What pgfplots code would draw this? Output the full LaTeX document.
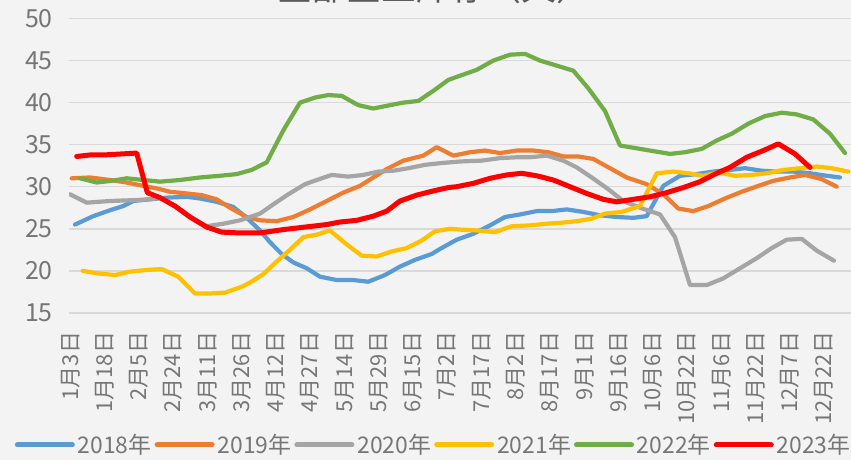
\documentclass[border=0pt]{standalone}
\usepackage{fontspec}
\setmainfont{Noto Sans CJK SC}
\usepackage{pgfplots}
\pgfplotsset{compat=1.18}
\definecolor{c18}{HTML}{5B9BD5}
\definecolor{c19}{HTML}{ED7D31}
\definecolor{c20}{HTML}{A5A5A5}
\definecolor{c21}{HTML}{FFC000}
\definecolor{c22}{HTML}{70AD47}
\definecolor{c23}{HTML}{FF0000}
\definecolor{bgc}{HTML}{F3F3F3}
\definecolor{gridc}{HTML}{D9D9D9}
\definecolor{labc}{HTML}{767676}
\definecolor{titlec}{HTML}{595959}
\begin{document}
\begin{tikzpicture}[x=1bp,y=1bp]
\fill[bgc] (0,0) rectangle (851,460);
\node[overlay, anchor=base, font=\fontsize{35}{35}\selectfont, text=titlec] at (434,459) {全部企业库存（天）};
\begin{axis}[
  at={(69,175)}, anchor=south west, scale only axis, width=782bp, height=294.3bp,
  xmin=69, xmax=851, ymin=15, ymax=50,
  ytick={15,20,...,50},
  xtick={70.5,104.75,139,173.25,207.5,241.75,276,310.25,344.5,378.75,413,447.25,481.5,515.75,550,584.25,618.5,652.75,687,721.25,755.5,789.75,824},
  xticklabels={1月3日,1月18日,2月5日,2月24日,3月11日,3月26日,4月12日,4月27日,5月14日,5月29日,6月15日,7月2日,7月17日,8月2日,8月17日,9月1日,9月16日,10月6日,10月22日,11月6日,11月22日,12月7日,12月22日},
  ymajorgrids, grid style={draw=gridc, line width=1.5bp},
  axis line style={draw=none}, major tick length=0pt,
  tick label style={text=labc},
  yticklabel style={font=\fontsize{25}{25}\selectfont, anchor=east, inner sep=0pt, xshift=-16bp},
  xticklabel style={font=\fontsize{22}{22}\selectfont, yshift=-19bp, rotate=90, anchor=east, inner sep=0pt},
  /pgf/number format/assume math mode=true,
  legend style={at={(0.467,-0.449)}, anchor=center, draw=none, fill=none, legend columns=-1, font=\fontsize{23}{23}\selectfont, text=labc, nodes={inner sep=3bp}, /tikz/every even column/.append style={column sep=0bp}},
  legend image code/.code={\draw[#1, line width=5bp, line cap=round] (0bp,0bp) -- (55bp,0bp);},
  no markers,
  every axis plot/.append style={line join=round, line cap=round, line width=4.2bp},
]
\addplot[c18] coordinates {(75,25.5)(93.3,26.5)(110,27.2)(123.3,27.7)(133.3,28.3)(150,28.5)(166.7,28.7)(186.7,28.8)(200,28.6)(216.7,28.2)(233.3,27.6)(246.7,26.3)(260,24.8)(270,23.4)(281.7,22.0)(293.3,21.0)(306.7,20.3)(320,19.3)(336.7,18.9)(353.3,18.9)(368.3,18.7)(385,19.5)(400,20.5)(415,21.3)(431.7,22.0)(440,22.6)(456.7,23.7)(473.3,24.4)(490,25.4)(505,26.4)(520,26.7)(536.7,27.1)(551.7,27.1)(566.7,27.3)(583.3,27.0)(600,26.6)(616.7,26.4)(633.3,26.3)(646.7,26.5)(663.3,30.1)(680,31.3)(696.7,31.5)(713.3,31.8)(730,32.0)(745,32.2)(761.7,31.9)(776.7,31.8)(793.3,31.8)(810,31.6)(826.7,31.3)(840,31.1)};
\addplot[c19] coordinates {(71.7,31.0)(90,31.1)(110,30.8)(126.7,30.5)(143.3,30.1)(156.7,29.8)(170,29.4)(186.7,29.2)(201.7,29.0)(216.7,28.5)(230,27.5)(246.7,26.4)(260,26.0)(276.7,25.9)(293.3,26.4)(310,27.3)(326.7,28.3)(343.3,29.3)(360,30.1)(373.3,31.1)(386.7,32.1)(403.3,33.1)(423.3,33.7)(436.7,34.7)(453.3,33.7)(470,34.1)(485,34.3)(500,34.0)(516.7,34.3)(533.3,34.3)(548.3,34.1)(563.3,33.6)(578.3,33.6)(593.3,33.3)(610,32.2)(626.7,31.1)(646.7,30.3)(663.3,29.1)(678.3,27.4)(693.3,27.1)(708.3,27.7)(725,28.6)(741.7,29.4)(758.3,30.1)(773.3,30.7)(790,31.1)(805,31.4)(821.7,30.9)(836.7,30.0)};
\addplot[c20] coordinates {(70,29.1)(86.7,28.1)(110,28.3)(133.3,28.4)(150,28.5)(160,28.7)(175,27.7)(190,26.4)(206.7,25.3)(223.3,25.6)(240,26.0)(260,26.8)(273.3,27.9)(288.3,29.1)(305,30.3)(316.7,30.8)(331.7,31.4)(348.3,31.2)(363.3,31.4)(378.3,31.8)(393.3,31.9)(408.3,32.2)(425,32.6)(440,32.8)(460,33.0)(481.7,33.1)(500,33.4)(516.7,33.5)(530,33.5)(546.7,33.7)(563.3,33.1)(576.7,32.3)(591.7,31.1)(608.3,29.7)(623.3,28.3)(640,27.5)(660,26.7)(675,24.0)(690,18.3)(706.7,18.3)(723.3,19.1)(740,20.3)(756.7,21.5)(771.7,22.7)(786.7,23.7)(801.7,23.8)(816.7,22.4)(834,21.2)};
\addplot[c21] coordinates {(82.7,20.0)(96.7,19.7)(115,19.5)(130,19.9)(146.7,20.1)(161.7,20.2)(178.3,19.3)(195,17.3)(210,17.3)(225,17.4)(241.7,18.1)(250,18.6)(263.3,19.6)(276.7,21.1)(290,22.5)(303.3,24.0)(316.7,24.3)(330,24.8)(345,23.3)(361.7,21.8)(376.7,21.7)(391.7,22.3)(406.7,22.7)(421.7,23.6)(435,24.7)(450,25.0)(460,24.9)(476.7,24.8)(495,24.6)(511.7,25.3)(530,25.4)(546.7,25.6)(560,25.7)(576.7,25.9)(591.7,26.2)(605,26.8)(621.7,27.0)(640,27.7)(656.7,31.6)(673.3,31.8)(688.3,31.6)(703.3,31.3)(718.3,31.7)(735,31.3)(751.7,31.4)(766.7,31.6)(783.3,32.0)(800,32.2)(816.7,32.4)(831.7,32.2)(848.3,31.8)};
\addplot[c22] coordinates {(80,31.0)(96.7,30.5)(111.7,30.7)(126.7,31.0)(143.3,30.8)(160,30.6)(180,30.8)(200,31.1)(220,31.3)(236.7,31.5)(251.7,32.0)(266.7,32.9)(283.3,36.7)(300,40.0)(315,40.6)(328.3,40.9)(341.7,40.8)(358.3,39.7)(373.3,39.3)(390,39.7)(403.3,40.0)(418.3,40.2)(433.3,41.4)(448.3,42.7)(460,43.2)(476.7,43.9)(493.3,45.0)(510,45.7)(525,45.8)(540,45.0)(556.7,44.4)(573.3,43.8)(588.3,41.7)(605,39.0)(620,34.9)(635,34.6)(650,34.3)(670,33.9)(685,34.1)(701.7,34.5)(716.7,35.5)(731.7,36.3)(748.3,37.5)(765,38.4)(781.7,38.8)(796.7,38.6)(813.3,38.0)(830,36.3)(845,34.0)};
\addplot[c23, line width=5bp] coordinates {(76.7,33.6)(92,33.8)(107,33.8)(122,33.9)(136.7,34.0)(147.3,29.3)(160,28.7)(175,27.7)(190,26.4)(206.7,25.2)(221.7,24.6)(240,24.5)(260,24.5)(283.3,24.9)(305,25.2)(326.7,25.5)(340,25.8)(356.7,26.0)(373.3,26.5)(386.7,27.1)(400,28.3)(416.7,29.0)(433.3,29.5)(448.3,29.9)(456.7,30.0)(473.3,30.4)(490,31.0)(506.7,31.4)(521.7,31.6)(536.7,31.3)(553.3,30.8)(570,30.0)(586.7,29.2)(603.3,28.5)(616.7,28.2)(633.3,28.5)(650,28.8)(666.7,29.3)(683.3,29.9)(700,30.6)(715,31.5)(730,32.3)(746.7,33.5)(763.3,34.3)(778.3,35.1)(795,33.9)(810,32.3)};
\legend{2018年,2019年,2020年,2021年,2022年,2023年}
\end{axis}
\pgfresetboundingbox
\path[use as bounding box] (0,0) rectangle (851,460);
\end{tikzpicture}
\end{document}
